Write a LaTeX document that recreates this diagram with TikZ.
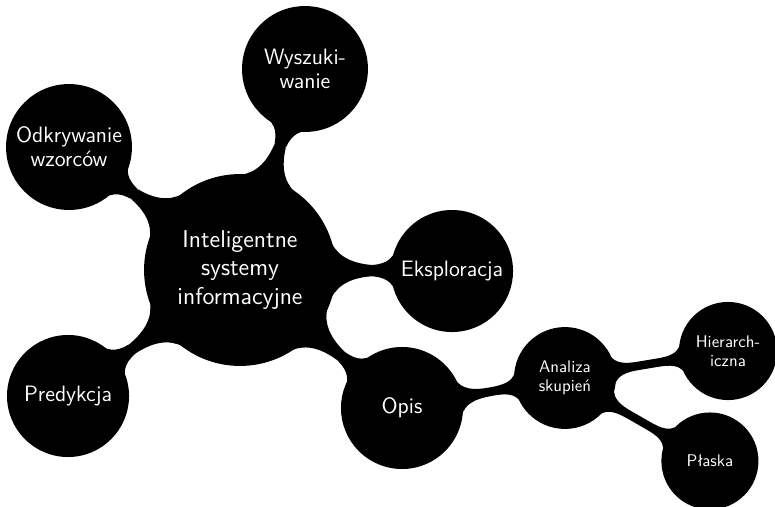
\documentclass[tikz,border=0pt]{standalone}
\usepackage{fontspec}
\usetikzlibrary{mindmap}
\begin{document}
\begin{tikzpicture}[
  mindmap, concept color=black, text=white,
  rootc/.style={concept, circle, fill=black, minimum size=3.92cm, text width=3.6cm, align=center, inner sep=0pt, font=\sffamily\fontsize{14.4}{17}\selectfont},
  lvlone/.style={concept, circle, fill=black, minimum size=2.5cm, text width=2.45cm, align=center, inner sep=0pt, font=\sffamily\fontsize{13.2}{14.4}\selectfont},
  lvltwo/.style={concept, circle, fill=black, minimum size=2.08cm, text width=1.95cm, align=center, inner sep=0pt, font=\sffamily\fontsize{10}{11.5}\selectfont},
  lvlthree/.style={concept, circle, fill=black, minimum size=1.98cm, text width=1.9cm, align=center, inner sep=0pt, font=\sffamily\fontsize{10}{11.5}\selectfont},
  bar/.style={circle connection bar switch color=from (black) to (black)}
]
\useasboundingbox (0,0) rectangle (16.146,-10.5625);
\node[rootc] (root) at (5.0,-5.625) {Inteligentne\\systemy\\informacyjne};
\node[lvlone] (wysz) at (6.354,-1.4375) {Wyszuki-\\wanie};
\node[lvlone] (odkr) at (1.4375,-3.0625) {Odkrywanie\\wzorców};
\node[lvlone] (eksp) at (9.417,-5.646) {Eksploracja};
\node[lvlone] (pred) at (1.417,-8.25) {Predykcja};
\node[lvlone] (opis) at (8.375,-8.5) {Opis};
\node[lvltwo] (anal) at (11.77,-7.875) {Analiza\\skupień};
\node[lvlthree] (hier) at (15.167,-7.3125) {Hierarch-\\iczna};
\node[lvlthree] (plas) at (14.79,-9.604) {Płaska};
\path (root) to[bar] (wysz);
\path (root) to[bar] (odkr);
\path (root) to[bar] (eksp);
\path (root) to[bar] (pred);
\path (root) to[bar] (opis);
\path (opis) to[bar] (anal);
\path (anal) to[bar] (hier);
\path (anal) to[bar] (plas);
\end{tikzpicture}
\end{document}
